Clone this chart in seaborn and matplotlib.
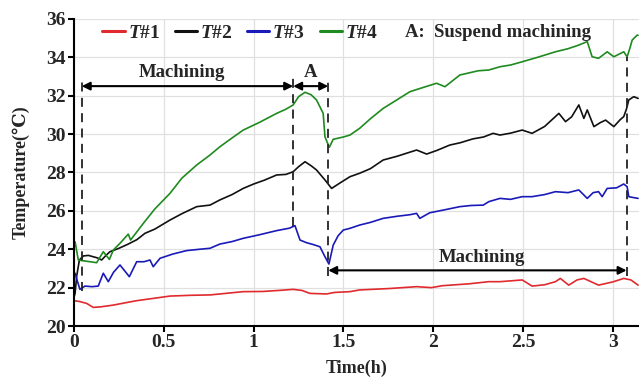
import numpy as np
import pandas as pd
import matplotlib
matplotlib.use("Agg")
import matplotlib.pyplot as plt
import seaborn as sns
from matplotlib.lines import Line2D

# ---------------- data ----------------
t1_x = [0.0, 0.03, 0.07, 0.107, 0.15, 0.219, 0.28, 0.349, 0.45, 0.534, 0.65, 0.757, 0.812, 0.942, 1.05, 1.15, 1.22, 1.27, 1.313, 1.406, 1.45, 1.536, 1.59, 1.75, 1.907, 1.99, 2.05, 2.2, 2.309, 2.371, 2.495, 2.55, 2.62, 2.68, 2.707, 2.754, 2.8, 2.838, 2.88, 2.92, 3.0, 3.06, 3.1, 3.14]
t1_y = [21.32, 21.28, 21.18, 20.97, 21.0, 21.09, 21.2, 21.32, 21.45, 21.56, 21.6, 21.62, 21.67, 21.79, 21.8, 21.86, 21.91, 21.85, 21.7, 21.67, 21.75, 21.79, 21.88, 21.95, 22.05, 22.0, 22.1, 22.2, 22.31, 22.31, 22.4, 22.08, 22.15, 22.31, 22.48, 22.13, 22.4, 22.48, 22.3, 22.13, 22.3, 22.48, 22.4, 22.13]

t2_x = [0.0, 0.006, 0.015, 0.03, 0.052, 0.08, 0.107, 0.13, 0.154, 0.18, 0.2, 0.25, 0.302, 0.35, 0.395, 0.45, 0.534, 0.6, 0.683, 0.757, 0.812, 0.88, 0.942, 1.0, 1.06, 1.128, 1.18, 1.22, 1.25, 1.286, 1.32, 1.35, 1.397, 1.434, 1.48, 1.536, 1.59, 1.65, 1.721, 1.8, 1.85, 1.907, 1.963, 2.02, 2.092, 2.15, 2.22, 2.28, 2.333, 2.371, 2.43, 2.495, 2.55, 2.62, 2.699, 2.736, 2.77, 2.81, 2.838, 2.857, 2.894, 2.93, 2.959, 3.005, 3.04, 3.06, 3.075, 3.088, 3.116, 3.14]
t2_y = [21.5, 21.7, 22.6, 23.44, 23.65, 23.68, 23.61, 23.55, 23.44, 23.7, 23.87, 24.05, 24.27, 24.5, 24.83, 25.05, 25.52, 25.85, 26.22, 26.3, 26.57, 26.85, 27.17, 27.4, 27.6, 27.87, 27.9, 28.04, 28.3, 28.56, 28.35, 28.13, 27.61, 27.17, 27.45, 27.78, 27.96, 28.2, 28.65, 28.85, 29.0, 29.17, 28.96, 29.15, 29.43, 29.55, 29.75, 29.85, 30.04, 29.95, 30.05, 30.21, 30.04, 30.4, 31.08, 30.65, 30.9, 31.52, 30.82, 31.26, 30.39, 30.6, 30.73, 30.39, 30.75, 30.91, 31.3, 31.78, 31.95, 31.86]

t3_x = [0.0, 0.006, 0.02, 0.033, 0.061, 0.1, 0.135, 0.163, 0.191, 0.22, 0.256, 0.28, 0.308, 0.349, 0.39, 0.423, 0.441, 0.479, 0.55, 0.627, 0.7, 0.757, 0.812, 0.88, 0.942, 1.03, 1.128, 1.2, 1.23, 1.258, 1.295, 1.33, 1.369, 1.397, 1.419, 1.443, 1.47, 1.499, 1.536, 1.59, 1.65, 1.721, 1.8, 1.87, 1.907, 1.925, 1.98, 2.055, 2.148, 2.21, 2.278, 2.309, 2.371, 2.43, 2.495, 2.55, 2.62, 2.68, 2.75, 2.81, 2.857, 2.89, 2.92, 2.94, 2.968, 3.02, 3.06, 3.079, 3.088, 3.11, 3.14]
t3_y = [22.6, 22.75, 22.3, 21.91, 22.08, 22.05, 22.08, 22.75, 22.31, 22.8, 23.18, 22.9, 22.57, 23.35, 23.35, 23.44, 23.09, 23.53, 23.75, 23.93, 24.0, 24.05, 24.27, 24.4, 24.57, 24.75, 24.97, 25.1, 25.23, 24.48, 24.34, 24.25, 24.13, 23.61, 23.23, 24.22, 24.7, 25.0, 25.09, 25.26, 25.4, 25.61, 25.72, 25.8, 25.87, 25.61, 25.9, 26.04, 26.22, 26.28, 26.3, 26.48, 26.65, 26.6, 26.74, 26.74, 26.85, 27.0, 26.95, 27.09, 26.65, 26.95, 27.0, 26.74, 27.17, 27.2, 27.4, 27.26, 26.74, 26.7, 26.65]

t4_x = [0.0, 0.006, 0.024, 0.05, 0.089, 0.126, 0.163, 0.197, 0.219, 0.26, 0.302, 0.315, 0.386, 0.45, 0.534, 0.6, 0.683, 0.757, 0.812, 0.88, 0.942, 1.03, 1.128, 1.18, 1.22, 1.25, 1.286, 1.32, 1.35, 1.387, 1.397, 1.421, 1.443, 1.5, 1.536, 1.59, 1.65, 1.721, 1.8, 1.87, 1.95, 2.018, 2.065, 2.148, 2.25, 2.309, 2.371, 2.43, 2.495, 2.58, 2.68, 2.75, 2.81, 2.857, 2.884, 2.92, 2.968, 3.005, 3.06, 3.079, 3.095, 3.107, 3.135, 3.14]
t4_y = [24.2, 24.39, 23.44, 23.4, 23.35, 23.3, 23.87, 23.47, 23.96, 24.35, 24.79, 24.48, 25.35, 26.1, 26.91, 27.7, 28.39, 28.91, 29.34, 29.8, 30.21, 30.6, 31.08, 31.3, 31.52, 31.95, 32.18, 32.05, 31.78, 31.08, 29.86, 29.31, 29.73, 29.85, 29.95, 30.3, 30.8, 31.34, 31.8, 32.21, 32.45, 32.65, 32.47, 33.08, 33.3, 33.34, 33.51, 33.6, 33.77, 34.0, 34.29, 34.45, 34.64, 34.82, 34.03, 33.95, 34.29, 34.03, 34.29, 34.03, 34.5, 34.9, 35.16, 35.15]

series_names = ["T#1", "T#2", "T#3", "T#4"]
series_labels = ["$T$#1", "$T$#2", "$T$#3", "$T$#4"]
series_colors = ["#e02a2e", "#111111", "#1a1ab8", "#1f8a1f"]

x_ticks = [0, 0.5, 1, 1.5, 2, 2.5, 3]
x_ticklabels = ["0", "0.5", "1", "1.5", "2", "2.5", "3"]
y_ticks = [20, 22, 24, 26, 28, 30, 32, 34, 36]

# phase boundaries (dashed lines) and their vertical extents
phase_x = [0.043, 1.22, 1.415, 3.076]
phase_y0 = [21.8, 25.2, 22.6, 22.6]
phase_y1 = [33.0, 33.0, 33.0, 34.0]

# ---------------- build dataframe ----------------
frames = []
for name, xs, ys in zip(series_names, [t1_x, t2_x, t3_x, t4_x], [t1_y, t2_y, t3_y, t4_y]):
    frames.append(pd.DataFrame({"Time": xs, "Temp": ys, "Series": name}))
df = pd.concat(frames, ignore_index=True)

# ---------------- style ----------------
sns.set_style("whitegrid", {"grid.color": "#e0e0e0", "axes.edgecolor": "black"})
plt.rcParams["font.family"] = ["Liberation Serif", "DejaVu Serif"]
plt.rcParams["font.weight"] = "bold"
plt.rcParams["mathtext.fontset"] = "custom"
plt.rcParams["mathtext.it"] = "Liberation Serif:italic:bold"
plt.rcParams["mathtext.rm"] = "Liberation Serif:bold"

fig = plt.figure(figsize=(6.39, 3.87), dpi=100)
ax = fig.add_axes([0.1158, 0.1576, 0.8842, 0.7934])

sns.lineplot(data=df, x="Time", y="Temp", hue="Series", hue_order=series_names,
             palette=dict(zip(series_names, series_colors)), estimator=None,
             sort=False, linewidth=1.2, ax=ax, legend=False)

ax.set_xlim(0, 3.145)
ax.set_ylim(20, 36)
ax.set_xticks(x_ticks)
ax.set_xticklabels(x_ticklabels)
ax.set_yticks(y_ticks)
ax.tick_params(axis="both", labelsize=14, direction="out", length=4, width=1.5,
               color="black", left=True, bottom=True, pad=2)
for lab in ax.get_xticklabels() + ax.get_yticklabels():
    lab.set_fontweight("bold")
ax.grid(True, color="#e0e0e0", linewidth=0.9)
for side in ["top", "right"]:
    ax.spines[side].set_visible(False)
for side in ["left", "bottom"]:
    ax.spines[side].set_color("black")
    ax.spines[side].set_linewidth(1.5)

ax.set_xlabel("Time(h)", fontsize=13, fontweight="bold", labelpad=6)
ax.set_ylabel("Temperature(\u2103)", fontsize=13, fontweight="bold", labelpad=12)

# dashed phase lines
for px, y0, y1 in zip(phase_x, phase_y0, phase_y1):
    ax.plot([px, px], [y0, y1], color="#222222", lw=1.3, linestyle=(0, (5, 3.5)))

# arrows
arrow_kw = dict(arrowstyle="<|-|>", color="black", lw=1.5, mutation_scale=12, shrinkA=0, shrinkB=0)
ax.annotate("", xy=(phase_x[0], 32.5), xytext=(phase_x[1], 32.5), arrowprops=arrow_kw)
ax.annotate("", xy=(phase_x[1], 32.5), xytext=(phase_x[2], 32.5), arrowprops=arrow_kw)
ax.annotate("", xy=(phase_x[2], 22.9), xytext=(phase_x[3], 22.9), arrowprops=arrow_kw)

ax.text(0.6, 32.75, "Machining", fontsize=13.5, fontweight="bold", ha="center", va="bottom")
ax.text(1.318, 32.75, "A", fontsize=13.5, fontweight="bold", ha="center", va="bottom")
ax.text(2.27, 23.15, "Machining", fontsize=13.5, fontweight="bold", ha="center", va="bottom")
ax.text(1.84, 35.3, "A:  Suspend machining", fontsize=13.5, fontweight="bold",
        ha="left", va="center")

# legend
handles = [Line2D([0], [0], color=c, lw=2.2) for c in series_colors]
leg = ax.legend(handles, series_labels, ncol=4, frameon=False, loc="center left",
                bbox_to_anchor=(0.05, 0.955), fontsize=14, handlelength=1.15,
                handletextpad=0.15, columnspacing=0.75, borderaxespad=0,
                borderpad=0)
for txt in leg.get_texts():
    txt.set_fontweight("bold")

fig.savefig("out.png", dpi=100)
